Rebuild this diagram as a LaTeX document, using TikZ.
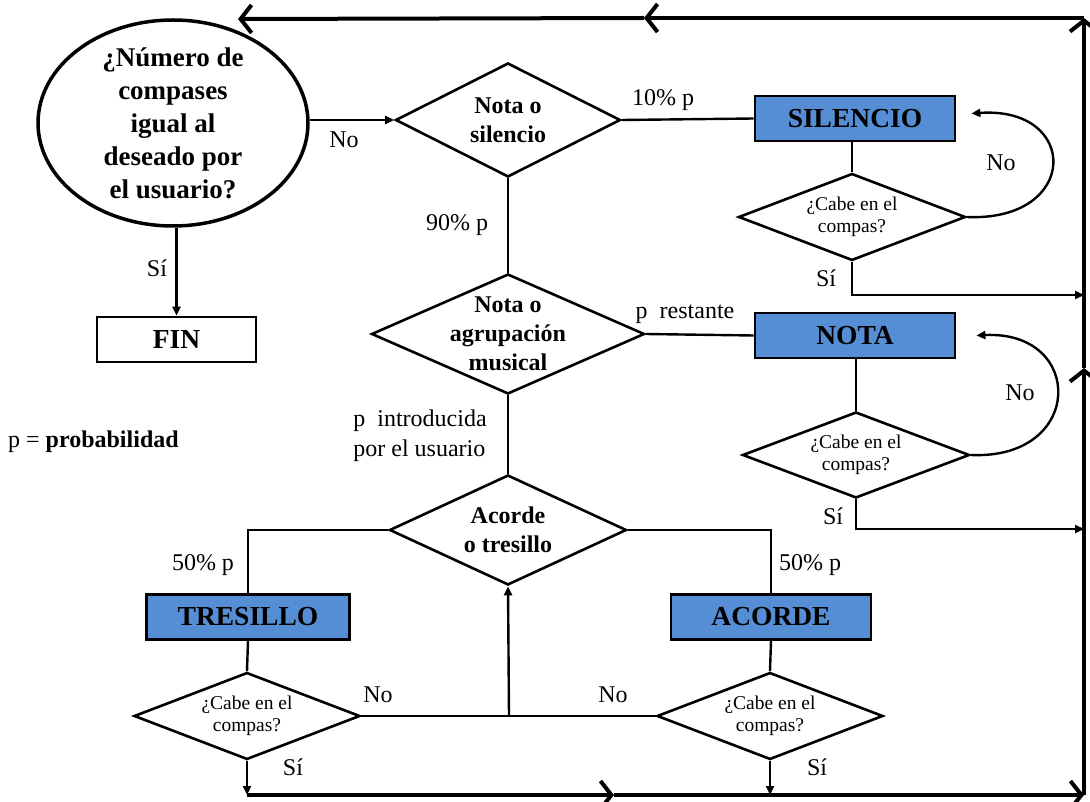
\documentclass[tikz,border=0pt]{standalone}
\usepackage{fontspec}
\setmainfont{Liberation Serif}
\usetikzlibrary{shapes.geometric,arrows.meta}
\definecolor{boxblue}{RGB}{85,142,213}
\begin{document}
\begin{tikzpicture}[x=1pt,y=-1pt,
  lbl/.style={font=\fontsize{24}{30}\selectfont, inner sep=0pt},
  bx/.style={draw, line width=2.8pt, fill=boxblue, minimum height=45pt, inner sep=0pt, font=\bfseries\fontsize{27.5}{30}\selectfont},
  dia/.style={diamond, draw, line width=2.6pt, inner sep=0pt},
  etext/.style={font=\bfseries\fontsize{27}{33}\selectfont, align=center, inner sep=0pt},
  dtext/.style={font=\bfseries\fontsize{24}{29}\selectfont, align=center, inner sep=0pt},
  stext/.style={font=\fontsize{19.5}{22}\selectfont, align=center, inner sep=0pt},
  ln/.style={line width=2.4pt},
  arr/.style={ln, -{Triangle[length=9pt,width=8pt]}},
  big/.style={line width=4pt, -{Straight Barb[length=11pt,width=28pt]}}
]
\useasboundingbox (0,0) rectangle (1090,802);

% nodes
\node[ellipse, draw, line width=3.5pt, minimum width=270pt, minimum height=206pt, inner sep=0pt,
  label={[etext]center:{¿Número de\\compases\\igual al\\deseado por\\el usuario?}}] (q) at (173,123) {};
\node[bx, fill=white, minimum width=159pt] (fin) at (176.5,339.5) {FIN};
\node[dia, minimum width=225pt, minimum height=114pt, label={[dtext]center:{Nota o\\silencio}}] (d1) at (508,120) {};
\node[bx, minimum width=200pt] (sil) at (855,118.5) {SILENCIO};
\node[dia, minimum width=227pt, minimum height=87pt, label={[stext]center:{¿Cabe en el\\compas?}}] (c1) at (852,217) {};
\node[dia, minimum width=273pt, minimum height=120pt, label={[dtext]center:{Nota o\\agrupación\\musical}}] (d2) at (508,334) {};
\node[bx, minimum width=200pt] (nota) at (855,335.5) {NOTA};
\node[dia, minimum width=227pt, minimum height=86pt, label={[stext]center:{¿Cabe en el\\compas?}}] (c2) at (856,455) {};
\node[dia, minimum width=237pt, minimum height=110pt, label={[dtext]center:{Acorde\\o tresillo}}] (d3) at (508,530) {};
\node[bx, minimum width=203pt] (tre) at (248,617) {TRESILLO};
\node[bx, minimum width=200pt] (aco) at (771,617) {ACORDE};
\node[dia, minimum width=226pt, minimum height=87pt, label={[stext]center:{¿Cabe en el\\compas?}}] (c3) at (247,716) {};
\node[dia, minimum width=226pt, minimum height=87pt, label={[stext]center:{¿Cabe en el\\compas?}}] (c4) at (770,716) {};

% coordinates of the outer loop
\coordinate (tr) at (1084,18);
\coordinate (br) at (1084,795);
\coordinate (tm) at (644,18);
\coordinate (rm) at (1084,368);
\coordinate (bm) at (614,795);
\coordinate (bl) at (247,795);
\coordinate (qin) at (238,19);
\coordinate (jn) at (509,716);
\coordinate (s1) at (1084,295);
\coordinate (s2) at (1084,529);

% connectors
\draw[arr] (d1.west -| q.east) -- (d1.west);
\draw[arr] (fin.north |- q.south) -- (fin.north);
\draw[ln] (d1.east) -- (sil.west);
\draw[ln] (sil.south -| c1.north) -- (c1.north);
\draw[ln] (d1.south) -- (d2.north);
\draw[ln] (d2.east) -- (nota.west);
\draw[ln] (nota.south -| c2.north) -- (c2.north);
\draw[ln] (d2.south) -- (d3.north);
\draw[ln] (d3.west) -| (tre.north);
\draw[ln] (tre.south) -- (c3.north);
\draw[ln] (d3.east) -| (aco.north);
\draw[ln] (aco.south) -- (c4.north);
\draw[ln] (c3.east) -- (c4.west);
\draw[arr] (jn) -- (d3.south);
\draw[arr] (c3.south) -- (bl);
\draw[arr] (c4.south) -- (c4.south |- bl);
\draw[arr] (c1.south) |- (s1);
\draw[arr] (c2.south) |- (s2);
\draw[arr] (c1.east) .. controls (1080,222) and (1080,106) .. ([shift={(15,-5)}]sil.east);
\draw[arr] (c2.east) .. controls (1085,460) and (1085,330) .. ([shift={(20,0)}]nota.east);

% outer loop
\draw[big] (bl) -- (bm);
\draw[big] (bm) -- (br);
\draw[big] (br) -- (rm);
\draw[big] (rm) -- (tr);
\draw[big] (tr) -- (tm);
\draw[big] (tm) -- (qin);

% labels
\node[lbl] (l1) at (344,140) {No};
\node[lbl] (l2) at (663,100) {10\% p};
\node[lbl] (l3) at (1001,163) {No};
\node[lbl] (l4) at (826,278) {Sí};
\node[lbl] (l5) at (457,225) {90\% p};
\node[lbl] (l6) at (685,314) {p\ \ restante};
\node[lbl] (l7) at (1020,393) {No};
\node[lbl] (l8) at (833,516) {Sí};
\node[lbl, align=left] (l9) at (420,436) {p\ \ introducida\\por el usuario};
\node[lbl] (l10) at (203,565) {50\% p};
\node[lbl] (l11) at (810,565) {50\% p};
\node[lbl] (l12) at (378,695) {No};
\node[lbl] (l13) at (613,695) {No};
\node[lbl] (l14) at (293,767) {Sí};
\node[lbl] (l15) at (817,767) {Sí};
\node[lbl] (l16) at (157,268) {Sí};
\node[lbl, anchor=west] (l17) at (8,442) {p = \textbf{probabilidad}};
\end{tikzpicture}
\end{document}
